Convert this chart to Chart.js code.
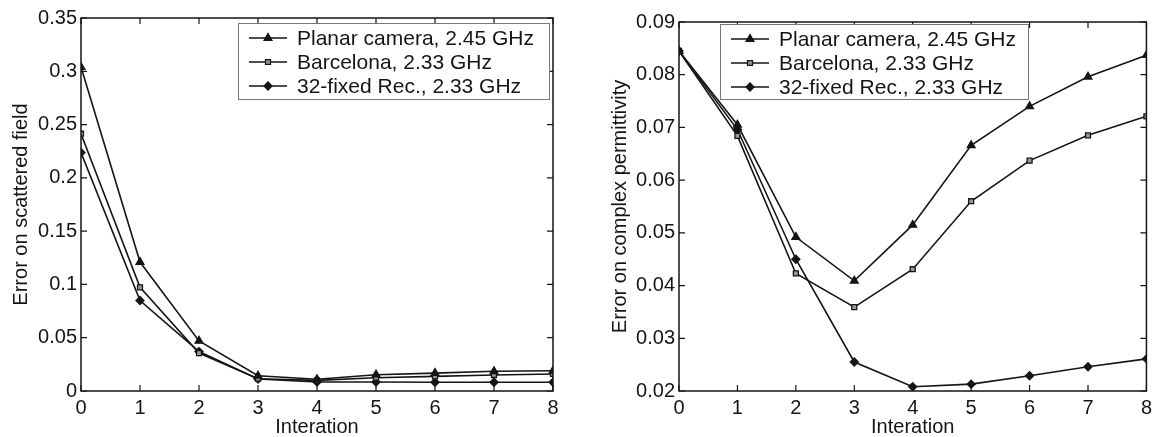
<!DOCTYPE html>
<html>
<head>
<meta charset="utf-8">
<script src="https://cdn.jsdelivr.net/npm/chart.js@4"></script>
<style>
  html, body { margin: 0; padding: 0; background: #fff; }
  .box { position: absolute; top: 0; height: 437px; }
  #b1 { left: 0; width: 580px; }
  #b2 { left: 580px; width: 577px; }
</style>
</head>
<body>
<div class="box" id="b1"><canvas id="c1"></canvas></div>
<div class="box" id="b2"><canvas id="c2"></canvas></div>
<script>
const iterations = [0, 1, 2, 3, 4, 5, 6, 7, 8];
const seriesNames = ['Planar camera, 2.45 GHz', 'Barcelona, 2.33 GHz', '32-fixed Rec., 2.33 GHz'];

// left: error on scattered field
const fieldPlanar    = [0.304, 0.121, 0.047, 0.0143, 0.011, 0.0153, 0.0168, 0.0185, 0.019];
const fieldBarcelona = [0.2414, 0.0973, 0.0356, 0.0115, 0.010, 0.0125, 0.0137, 0.015, 0.016];
const fieldFixed     = [0.2237, 0.0849, 0.037, 0.0112, 0.0084, 0.0084, 0.0082, 0.0082, 0.0082];
const fieldTicks = [0, 0.05, 0.1, 0.15, 0.2, 0.25, 0.3, 0.35];

// right: error on complex permittivity
const permPlanar    = [0.0845, 0.0705, 0.0492, 0.0409, 0.0515, 0.0666, 0.074, 0.0796, 0.0837];
const permBarcelona = [0.0845, 0.0684, 0.0423, 0.0359, 0.0431, 0.056, 0.0637, 0.0685, 0.0721];
const permFixed     = [0.0845, 0.0696, 0.045, 0.0255, 0.0208, 0.0213, 0.0229, 0.0246, 0.0261];
const permTicks = [0.02, 0.03, 0.04, 0.05, 0.06, 0.07, 0.08, 0.09];

const FONT = 'Liberation Sans, Arial, sans-serif';
const INK = '#151515';
const styles = [
  { pointStyle: 'triangle', pointRadius: 4.5, pointBackgroundColor: INK },
  { pointStyle: 'rect', pointRadius: 3.5, pointBackgroundColor: '#999' },
  { pointStyle: 'rectRot', pointRadius: 4, pointBackgroundColor: INK }
];

function makeSets(list) {
  return list.map((vals, i) => Object.assign({
    label: seriesNames[i],
    data: iterations.map((x, j) => ({ x: x, y: vals[j] })),
    borderColor: INK,
    borderWidth: 1.6,
    pointBorderColor: INK,
    pointBorderWidth: 1.3,
    tension: 0
  }, styles[i]));
}

// box frame, inward ticks and the boxed legend
const framePlugin = {
  id: 'frame',
  afterDraw(chart, args, opts) {
    const ctx = chart.ctx;
    const a = chart.chartArea;
    const xs = chart.scales.x, ys = chart.scales.y;
    ctx.save();
    ctx.strokeStyle = INK;
    ctx.lineWidth = 1.5;
    ctx.strokeRect(a.left, a.top, a.right - a.left, a.bottom - a.top);
    ctx.lineWidth = 1.2;
    ctx.beginPath();
    xs.ticks.forEach(t => {
      const px = xs.getPixelForValue(t.value);
      ctx.moveTo(px, a.bottom); ctx.lineTo(px, a.bottom - 6);
      ctx.moveTo(px, a.top); ctx.lineTo(px, a.top + 6);
    });
    ys.ticks.forEach(t => {
      const py = ys.getPixelForValue(t.value);
      ctx.moveTo(a.left, py); ctx.lineTo(a.left + 6, py);
      ctx.moveTo(a.right, py); ctx.lineTo(a.right - 6, py);
    });
    ctx.stroke();

    const L = opts.legend;
    ctx.fillStyle = '#fff';
    ctx.fillRect(L.x, L.y, L.w, L.h);
    ctx.strokeStyle = '#777';
    ctx.lineWidth = 1;
    ctx.strokeRect(L.x + 0.5, L.y + 0.5, L.w, L.h);
    ctx.font = '21px ' + FONT;
    ctx.textBaseline = 'middle';
    chart.data.datasets.forEach((ds, i) => {
      const y = L.y + 15 + i * 24;
      ctx.strokeStyle = INK;
      ctx.lineWidth = 1.6;
      ctx.beginPath();
      ctx.moveTo(L.x + 11, y); ctx.lineTo(L.x + 49, y);
      ctx.stroke();
      ctx.fillStyle = ds.pointBackgroundColor;
      ctx.lineWidth = 1.3;
      Chart.helpers.drawPoint(ctx, { pointStyle: ds.pointStyle, radius: ds.pointRadius, rotation: 0, borderWidth: 1.3 }, L.x + 30, y);
      ctx.fillStyle = INK;
      ctx.fillText(ds.label, L.x + 59, y + 1);
    });
    ctx.restore();
  }
};

function makeChart(id, sets, ticks, yTitle, axisW, titlePad, pad, legend) {
  return new Chart(document.getElementById(id), {
    type: 'line',
    data: { datasets: makeSets(sets) },
    plugins: [framePlugin],
    options: {
      responsive: true,
      maintainAspectRatio: false,
      animation: false,
      layout: { padding: pad },
      plugins: {
        legend: { display: false },
        tooltip: { enabled: false },
        frame: { legend: legend }
      },
      scales: {
        x: {
          type: 'linear',
          min: iterations[0],
          max: iterations[iterations.length - 1],
          afterFit: s => { s.height = 46; },
          grid: { display: false, drawTicks: false },
          border: { display: false },
          ticks: { stepSize: 1, padding: 5, color: INK, font: { family: FONT, size: 20 } },
          title: { display: true, text: 'Interation', color: INK, padding: { top: 0, bottom: 0 }, font: { family: FONT, size: 20, lineHeight: 1 } }
        },
        y: {
          type: 'linear',
          min: ticks[0],
          max: ticks[ticks.length - 1],
          afterFit: s => { s.width = axisW; },
          grid: { display: false, drawTicks: false },
          border: { display: false },
          afterBuildTicks: s => { s.ticks = ticks.map(v => ({ value: v })); },
          ticks: { padding: 4, color: INK, font: { family: FONT, size: 20 }, callback: v => String(+v.toFixed(3)) },
          title: { display: true, text: yTitle, color: INK, padding: { top: titlePad, bottom: 0 }, font: { family: FONT, size: 20, lineHeight: 1 } }
        }
      }
    }
  });
}

makeChart('c1', [fieldPlanar, fieldBarcelona, fieldFixed], fieldTicks, 'Error on scattered field',
  81, 11, { top: 18, right: 27, bottom: 0, left: 0 }, { x: 238, y: 23, w: 311, h: 76 });
makeChart('c2', [permPlanar, permBarcelona, permFixed], permTicks, 'Error on complex permittivity',
  99, 30, { top: 22, right: 7, bottom: 0, left: 0 }, { x: 140, y: 24, w: 308, h: 75 });
</script>
</body>
</html>
